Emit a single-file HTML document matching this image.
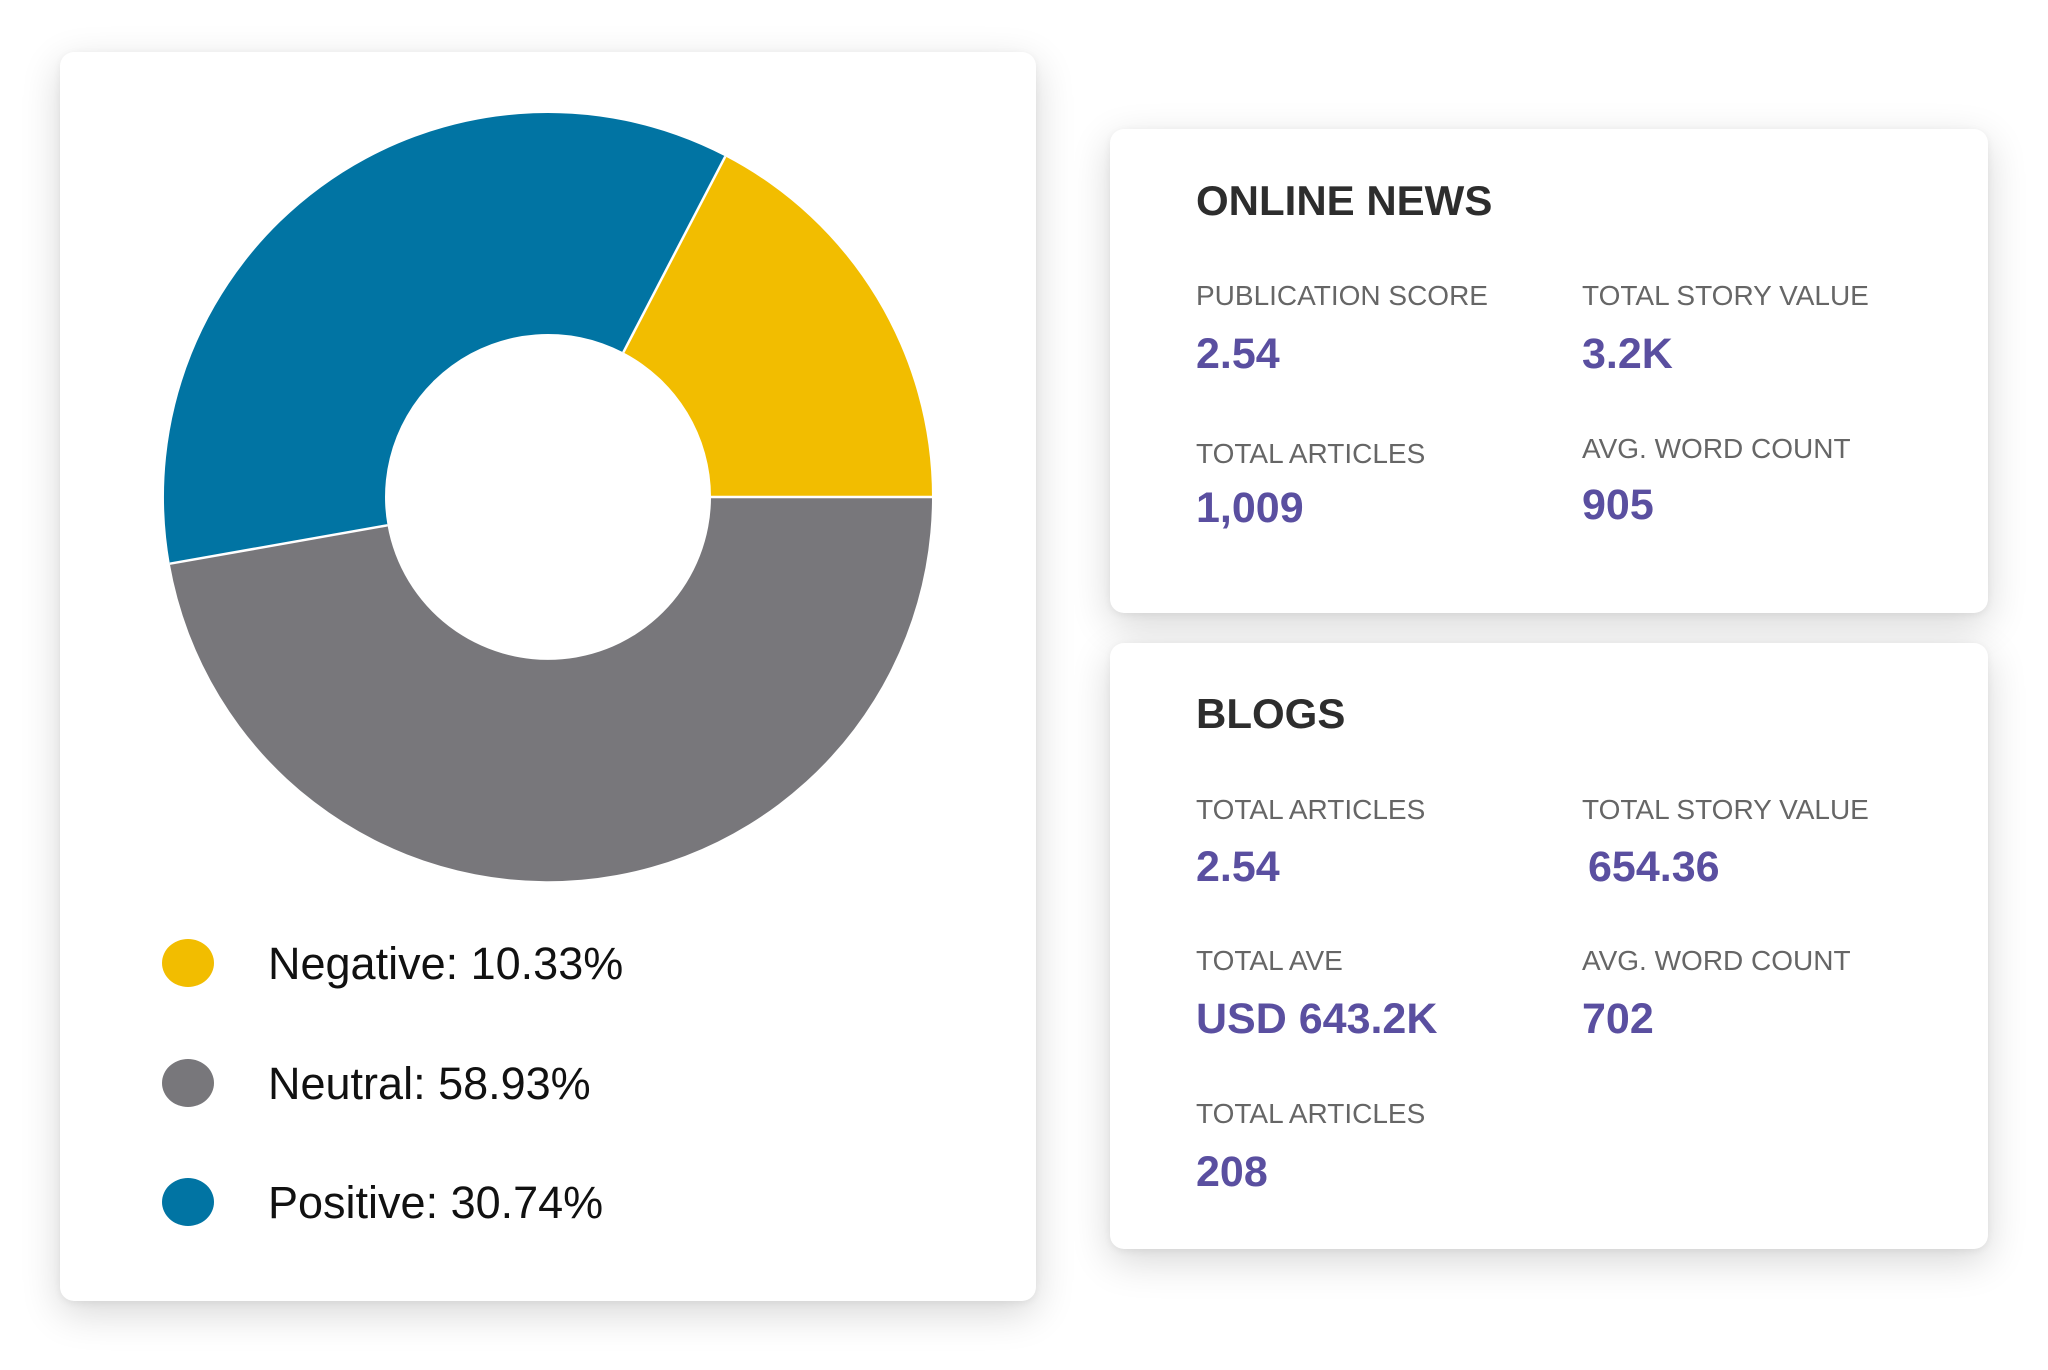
<!DOCTYPE html>
<html><head><meta charset="utf-8"><style>
html,body{margin:0;padding:0;background:#fff;}
body{width:2048px;height:1370px;position:relative;overflow:hidden;font-family:"Liberation Sans",sans-serif;}
.card{position:absolute;background:#fff;border-radius:14px;box-shadow:0 12px 40px rgba(0,0,0,0.16),0 2px 8px rgba(0,0,0,0.06);}
.t{position:absolute;line-height:1;white-space:nowrap;}
.title{font-size:42px;font-weight:bold;color:#2d2d2d;}
.lab{font-size:28px;color:#666;}
.val{font-size:43px;font-weight:bold;color:#5a4fa0;}
.leg{font-size:45px;color:#111;}
</style></head><body>
<div class="card" style="left:60px;top:52px;width:976px;height:1249px;"></div>
<div class="card" style="left:1110px;top:129px;width:878px;height:484px;"></div>
<div class="card" style="left:1110px;top:643px;width:878px;height:606px;"></div>

<svg style="position:absolute;left:0;top:0" width="2048" height="1370">
<g transform="translate(2,1)">
<path d="M930,496 A384,384 0 0 1 167.8,562.7 L385.5,524.3 A163,163 0 0 0 709,496 Z" fill="#78777b"/>
<path d="M167.8,562.7 A384,384 0 0 1 723.3,155.4 L621.3,351.4 A163,163 0 0 0 385.5,524.3 Z" fill="#0174a3"/>
<path d="M723.3,155.4 A384,384 0 0 1 930,496 L709,496 A163,163 0 0 0 621.3,351.4 Z" fill="#f2bd00"/>
<g stroke="#fff" stroke-width="2.5">
<line x1="930" y1="496" x2="709" y2="496"/>
<line x1="167.8" y1="562.7" x2="385.5" y2="524.3"/>
<line x1="723.3" y1="155.4" x2="621.3" y2="351.4"/>
</g>
</g>
<ellipse cx="188" cy="963" rx="26" ry="24" fill="#f2bd00"/>
<ellipse cx="188" cy="1083" rx="26" ry="24" fill="#78777b"/>
<ellipse cx="188" cy="1202" rx="26" ry="24" fill="#0174a3"/>
</svg>

<div class="t leg" style="left:268px;top:941px;">Negative: 10.33%</div>
<div class="t leg" style="left:268px;top:1061px;">Neutral: 58.93%</div>
<div class="t leg" style="left:268px;top:1180px;">Positive: 30.74%</div>

<div class="t title" style="left:1196px;top:180px;">ONLINE NEWS</div>
<div class="t lab" style="left:1196px;top:282px;">PUBLICATION SCORE</div>
<div class="t val" style="left:1196px;top:333px;">2.54</div>
<div class="t lab" style="left:1582px;top:282px;">TOTAL STORY VALUE</div>
<div class="t val" style="left:1582px;top:333px;">3.2K</div>
<div class="t lab" style="left:1196px;top:440px;">TOTAL ARTICLES</div>
<div class="t val" style="left:1196px;top:487px;">1,009</div>
<div class="t lab" style="left:1582px;top:435px;">AVG. WORD COUNT</div>
<div class="t val" style="left:1582px;top:484px;">905</div>

<div class="t title" style="left:1196px;top:693px;">BLOGS</div>
<div class="t lab" style="left:1196px;top:796px;">TOTAL ARTICLES</div>
<div class="t val" style="left:1196px;top:846px;">2.54</div>
<div class="t lab" style="left:1582px;top:796px;">TOTAL STORY VALUE</div>
<div class="t val" style="left:1588px;top:846px;">654.36</div>
<div class="t lab" style="left:1196px;top:947px;">TOTAL AVE</div>
<div class="t val" style="left:1196px;top:998px;">USD 643.2K</div>
<div class="t lab" style="left:1582px;top:947px;">AVG. WORD COUNT</div>
<div class="t val" style="left:1582px;top:998px;">702</div>
<div class="t lab" style="left:1196px;top:1100px;">TOTAL ARTICLES</div>
<div class="t val" style="left:1196px;top:1151px;">208</div>
</body></html>
